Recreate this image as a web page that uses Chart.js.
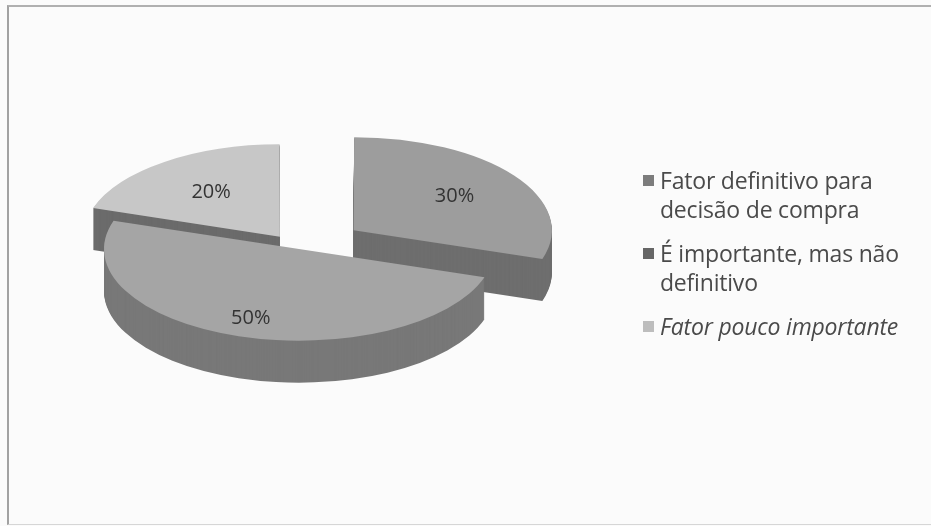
<!DOCTYPE html>
<html>
<head>
<meta charset="utf-8">
<script src="https://cdn.jsdelivr.net/npm/chart.js@4"></script>
<style>
  html, body { margin:0; padding:0; background:#fbfbfb; }
  #wrap { position:relative; width:931px; height:526px; overflow:hidden; background:#fbfbfb; }
  #frame { position:absolute; left:7px; top:5px; width:930px; height:517px;
           border-left:2px solid #a2a2a2; border-top:2px solid #b0b0b0; border-bottom:1px solid #d6d6d6; }
  canvas { position:absolute; left:0; top:0; }
  #legend { position:absolute; left:643px; top:166px; width:288px;
            font-family: "Open Sans", sans-serif; font-size:23px; color:#4a4a4a; letter-spacing:-0.2px; }
  .item { position:relative; padding-left:17px; line-height:29px; margin-bottom:15px; width:262px; }
  .item .sw { position:absolute; left:0; top:9px; width:11px; height:11px; }
  .item.it { font-style:italic; width:288px; }
</style>
</head>
<body>
<div id="wrap">
  <div id="frame"></div>
  <canvas id="c" width="931" height="526"></canvas>
  <div id="legend"></div>
</div>
<script>
// ---- data ----
const categories = ['Fator definitivo para decisão de compra', 'É importante, mas não definitivo', 'Fator pouco importante'];
const values = [30, 50, 20];
const percentLabels = ['30%', '50%', '20%'];

// ---- styles ----
const topColors = ['#9d9d9d', '#a5a5a5', '#c7c7c7'];
const sideColors = ['#6e6e6e', '#787878', '#6b6b6b'];
const legendColors = ['#7c7c7c', '#666666', '#bdbdbd'];
const explode = [270, 0, 130];

const pie3d = {
  id: 'pie3d',
  beforeDatasetsDraw(chart, args, opts) {
    const meta = chart.getDatasetMeta(0);
    const ctx = chart.ctx;
    const arcs = meta.data;
    const cx = arcs[0].x, cy = arcs[0].y;
    const k = opts.tilt;
    const drawLayer = (dy, colors) => {
      ctx.save();
      ctx.translate(cx, cy + dy);
      ctx.scale(1, k);
      ctx.translate(-cx, -cy);
      arcs.forEach((el, i) => {
        const orig = el.options;
        el.options = Object.assign({}, orig, { backgroundColor: colors[i], borderWidth: 0 });
        el.draw(ctx);
        el.options = orig;
      });
      ctx.restore();
    };
    for (let d = opts.depth; d >= 1; d--) drawLayer(d, sideColors);
    drawLayer(0, topColors);
    ctx.save();
    ctx.font = '20px "Open Sans", sans-serif';
    ctx.fillStyle = '#333';
    ctx.textAlign = 'center';
    ctx.textBaseline = 'middle';
    arcs.forEach((el, i) => {
      const half = (el.startAngle + el.endAngle) / 2;
      const r = el.outerRadius * opts.labelFrac[i] + (el.options.offset || 0) / 4;
      ctx.fillText(percentLabels[i], cx + Math.cos(half) * r, cy + k * Math.sin(half) * r);
    });
    ctx.restore();
    return false;
  }
};

new Chart(document.getElementById('c'), {
  type: 'pie',
  data: {
    labels: categories,
    datasets: [{
      data: values,
      backgroundColor: topColors,
      borderWidth: 0,
      offset: explode,
      radius: 195
    }]
  },
  options: {
    responsive: false,
    animation: false,
    layout: { padding: { left: 0, top: 0, right: 333, bottom: 28 } },
    plugins: {
      legend: { display: false },
      tooltip: { enabled: false },
      pie3d: { tilt: 0.47, depth: 42, labelFrac: [0.64, 0.8, 0.6] }
    }
  },
  plugins: [pie3d]
});

// HTML legend
const lg = document.getElementById('legend');
categories.forEach((c, i) => {
  const d = document.createElement('div');
  d.className = 'item' + (i === 2 ? ' it' : '');
  d.innerHTML = '<span class="sw" style="background:' + legendColors[i] + '"></span>';
  d.appendChild(document.createTextNode(c));
  lg.appendChild(d);
});
</script>
</body>
</html>
